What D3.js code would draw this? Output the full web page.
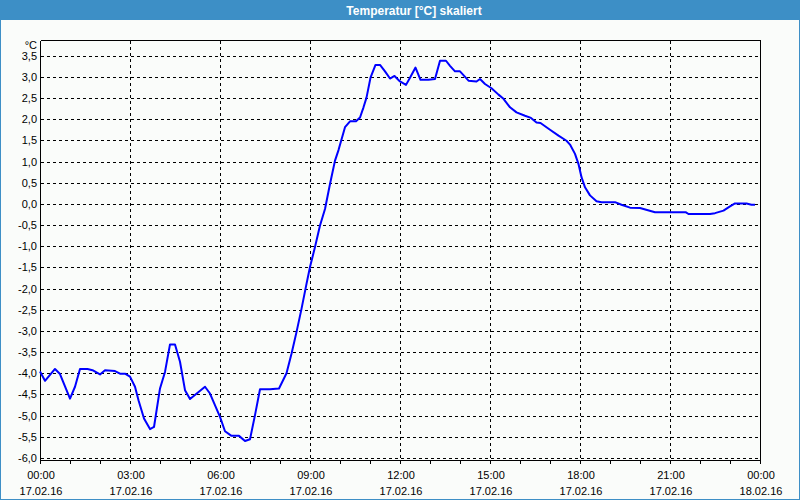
<!DOCTYPE html>
<html><head><meta charset="utf-8">
<script src="https://cdn.jsdelivr.net/npm/d3@7"></script>
<style>body{margin:0;background:#fff}svg{display:block}</style>
</head><body><svg id="c" width="800" height="500"></svg>
<script>
const title = "Temperatur [°C] skaliert";
const unitLabel = "°C";
const times = ["00:00","00:10","00:30","00:40","01:00","01:10","01:20","01:35","01:45","02:00","02:10","02:30","02:40","02:50",
"03:00","03:10","03:17","03:28","03:40","03:48","04:00","04:10","04:20","04:30","04:40","04:50","05:00","05:30","05:40",
"06:00","06:10","06:23","06:38","06:50","07:00","07:10","07:20","07:40","07:58","08:13","08:23","08:33","08:43","08:53",
"09:00","09:10","09:20","09:30","09:40","09:50","09:57","10:10","10:20","10:32","10:40","10:47","10:53","11:01","11:11","11:20",
"11:30","11:40","11:49","12:00","12:12","12:20","12:31","12:41","12:57","13:10","13:20","13:32","13:40","13:50","14:00",
"14:17","14:33","14:40","14:50","15:03","15:17","15:27","15:40","15:53","16:10","16:22","16:33","16:41","17:00","17:17",
"17:33","17:40","17:50","17:57","18:03","18:10","18:20","18:33","18:43","19:10","19:23","19:40","20:00","20:30","21:32",
"21:37","22:20","22:30","22:47","23:00","23:10","23:33","23:43","23:50"];
const temps = [-3.96,-4.18,-3.90,-4.02,-4.60,-4.32,-3.90,-3.90,-3.93,-4.03,-3.93,-3.95,-4.01,-4.01,
-4.08,-4.32,-4.64,-5.07,-5.32,-5.27,-4.36,-3.97,-3.32,-3.32,-3.73,-4.40,-4.61,-4.32,-4.48,
-5.03,-5.37,-5.48,-5.48,-5.60,-5.56,-4.99,-4.38,-4.38,-4.36,-4.00,-3.54,-3.03,-2.48,-1.89,
-1.49,-1.02,-0.51,-0.12,0.47,1.02,1.27,1.81,1.95,1.95,2.04,2.28,2.51,2.98,3.28,3.28,
3.13,2.96,3.02,2.89,2.81,2.98,3.22,2.93,2.93,2.95,3.38,3.38,3.26,3.13,3.13,
2.91,2.89,2.95,2.83,2.73,2.58,2.48,2.28,2.16,2.08,2.03,1.92,1.91,1.75,1.61,
1.49,1.40,1.18,0.94,0.63,0.39,0.20,0.06,0.04,0.04,-0.02,-0.09,-0.10,-0.20,-0.20,
-0.24,-0.24,-0.22,-0.16,-0.06,0.01,0.01,-0.02,-0.02];
const yTicks = [-6,-5.5,-5,-4.5,-4,-3.5,-3,-2.5,-2,-1.5,-1,-0.5,0,0.5,1,1.5,2,2.5,3,3.5];
const xMajorHours = [0,3,6,9,12,15,18,21,24];
const xTimeLabels = ["00:00","03:00","06:00","09:00","12:00","15:00","18:00","21:00","00:00"];
const xDateLabels = ["17.02.16","17.02.16","17.02.16","17.02.16","17.02.16","17.02.16","17.02.16","17.02.16","18.02.16"];
const xMinorHours = d3.range(0, 25, 1);

const svg = d3.select("#c");
const W = 800, H = 500;
const L = 40, R = 760, T = 40, B = 460;
const bandColor = "#3d8fc6";
const font = "'Liberation Sans', Arial, sans-serif";

svg.append("rect").attr("width", W).attr("height", H).attr("fill", "#fafcfa");
svg.append("rect").attr("x", 0.5).attr("y", 0.5).attr("width", W - 1).attr("height", H - 1)
  .attr("fill", "none").attr("stroke", bandColor).attr("shape-rendering", "crispEdges");
svg.append("rect").attr("x", 0).attr("y", 0).attr("width", W).attr("height", 20).attr("fill", bandColor);
svg.append("text").attr("x", 414).attr("y", 14.5).attr("text-anchor", "middle")
  .attr("fill", "#fff").attr("font-family", font).attr("font-weight", "bold").attr("font-size", 12)
  .text(title);

const hrs = t => { const p = t.split(":"); return +p[0] + +p[1] / 60; };
const x = d3.scaleLinear().domain([0, 24]).range([L, R]);
const y = d3.scaleLinear().domain([-6.05, 3.87]).range([B, T]);
const px = v => Math.round(v) + 0.5;

const grid = svg.append("g").attr("stroke", "#000").attr("stroke-dasharray", "3,3")
  .attr("shape-rendering", "crispEdges");
grid.selectAll("line.h").data(yTicks).join("line").attr("class", "h")
  .attr("x1", L + 1).attr("x2", R).attr("y1", d => px(y(d))).attr("y2", d => px(y(d)));
grid.selectAll("line.v").data(xMajorHours.slice(1, -1)).join("line").attr("class", "v")
  .attr("y1", T + 1).attr("y2", B).attr("x1", d => px(x(d))).attr("x2", d => px(x(d)));

// frame
const frame = svg.append("g").attr("stroke", "#000").attr("shape-rendering", "crispEdges");
frame.append("line").attr("x1", px(L)).attr("x2", px(R)).attr("y1", px(T)).attr("y2", px(T));
frame.append("line").attr("x1", px(R)).attr("x2", px(R)).attr("y1", px(T)).attr("y2", px(B));
frame.append("line").attr("x1", px(L)).attr("x2", px(L)).attr("y1", px(T)).attr("y2", px(B));
frame.append("line").attr("x1", px(L)).attr("x2", px(R)).attr("y1", px(B)).attr("y2", px(B));
frame.selectAll("line.t").data(xMinorHours).join("line").attr("class", "t")
  .attr("x1", d => px(x(d))).attr("x2", d => px(x(d))).attr("y1", px(B)).attr("y2", px(B) + 3);

// y labels
const fmt = v => d3.format(".1f")(v).replace(".", ",").replace("−", "-");
svg.append("g").selectAll("text").data(yTicks).join("text")
  .attr("x", 37).attr("y", d => y(d) + 4).attr("text-anchor", "end")
  .attr("font-family", font).attr("font-size", 11).attr("fill", "#000").text(fmt);
svg.append("text").attr("x", 37).attr("y", 49).attr("text-anchor", "end")
  .attr("font-family", font).attr("font-size", 11).attr("fill", "#000").text(unitLabel);

// x labels
const xl = svg.append("g").attr("font-family", font).attr("font-size", 11).attr("fill", "#000")
  .attr("text-anchor", "middle");
xl.selectAll("text.tm").data(xMajorHours).join("text").attr("class", "tm")
  .attr("x", d => x(d) + 1).attr("y", 479).text((d, i) => xTimeLabels[i]);
xl.selectAll("text.dt").data(xMajorHours).join("text").attr("class", "dt")
  .attr("x", d => x(d) + 1).attr("y", 495).text((d, i) => xDateLabels[i]);

// line
const data = times.map((t, i) => ({ h: hrs(t), v: temps[i] }));
svg.append("path").datum(data).attr("fill", "none").attr("stroke", "#0000ff").attr("stroke-width", 2)
  .attr("stroke-linejoin", "round")
  .attr("d", d3.line().x(d => x(d.h)).y(d => y(d.v)));
</script></body></html>
